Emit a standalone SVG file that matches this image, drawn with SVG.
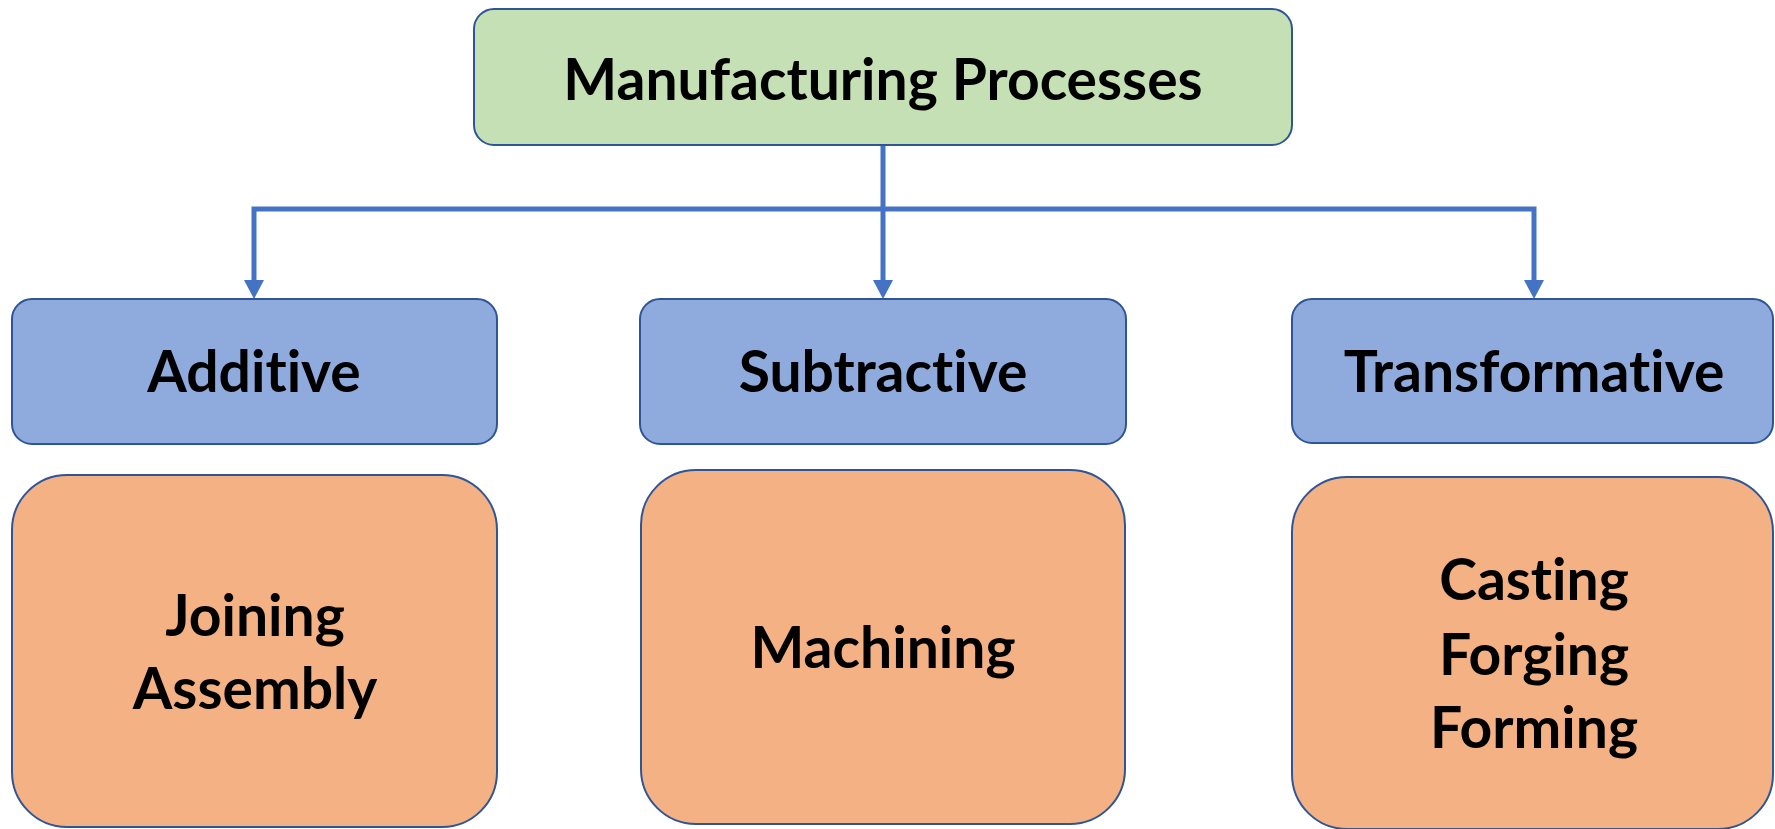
<svg xmlns="http://www.w3.org/2000/svg" width="1775" height="829" viewBox="0 0 1775 829">
  <style>
    .box { stroke: #2F5597; stroke-width: 2; }
    .root { fill: #C5E0B4; }
    .cat { fill: #8FAADC; }
    .leaf { fill: #F4B183; }
    .label { font-family: Lato, "Open Sans", "Liberation Sans", sans-serif; font-weight: bold; fill: #000; text-anchor: middle; font-size: 57px; font-variant-ligatures: none; }
    .link { fill: none; stroke: #4472C4; stroke-width: 5; }
    .head { fill: #4472C4; }
  </style>
  <defs>
    <path id="arrowhead" class="head" d="M-10,-19 L10,-19 L0,0 Z"/>
  </defs>
  <rect width="1775" height="829" fill="#ffffff"/>

  <!-- connectors: trunk, bus bar and three drops with arrowheads -->
  <g id="connectors">
    <line class="link" x1="883" y1="145" x2="883" y2="282"/>
    <polyline class="link" points="254,282 254,209 1534,209 1534,282"/>
    <use href="#arrowhead" x="254" y="299"/>
    <use href="#arrowhead" x="883" y="299"/>
    <use href="#arrowhead" x="1534" y="299"/>
  </g>

  <!-- root -->
  <g id="node-manufacturing">
    <rect class="box root" x="474" y="9" width="818" height="136" rx="20" ry="20"/>
    <text class="label" x="883" y="100">Manufacturing Processes</text>
  </g>

  <!-- process categories -->
  <g id="node-additive">
    <rect class="box cat" x="12" y="299" width="485" height="145" rx="20" ry="20"/>
    <text class="label" x="254" y="392">Additive</text>
  </g>
  <g id="node-subtractive">
    <rect class="box cat" x="640" y="299" width="486" height="145" rx="20" ry="20"/>
    <text class="label" x="883" y="392">Subtractive</text>
  </g>
  <g id="node-transformative">
    <rect class="box cat" x="1292" y="299" width="481" height="144" rx="20" ry="20"/>
    <text class="label" x="1534" y="392">Transformative</text>
  </g>

  <!-- example processes -->
  <g id="node-additive-examples">
    <rect class="box leaf" x="12" y="475" width="485" height="352" rx="55" ry="55"/>
    <text class="label" x="255" y="636">Joining</text>
    <text class="label" x="255" y="709">Assembly</text>
  </g>
  <g id="node-subtractive-examples">
    <rect class="box leaf" x="641" y="470" width="484" height="354" rx="55" ry="55"/>
    <text class="label" x="883" y="668">Machining</text>
  </g>
  <g id="node-transformative-examples">
    <rect class="box leaf" x="1292" y="477" width="481" height="352" rx="55" ry="55"/>
    <text class="label" x="1534" y="600">Casting</text>
    <text class="label" x="1534" y="675">Forging</text>
    <text class="label" x="1534" y="748">Forming</text>
  </g>
</svg>
